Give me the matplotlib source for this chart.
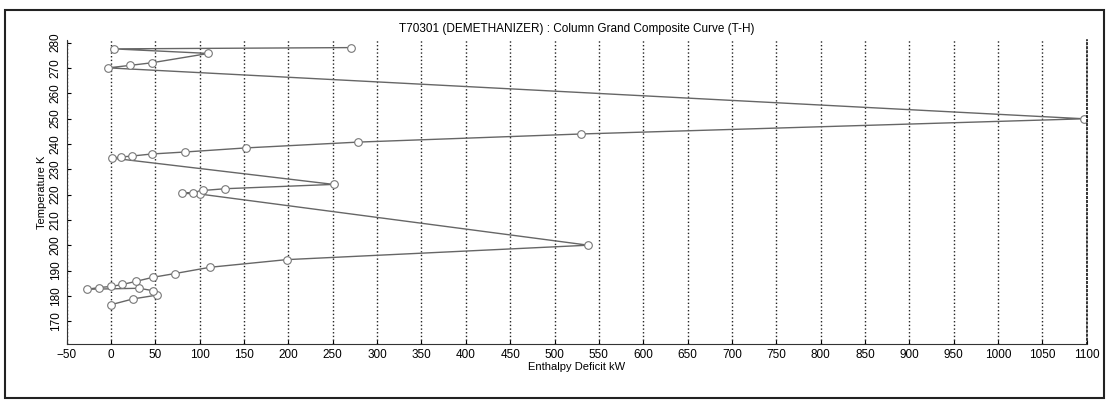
import numpy as np
import matplotlib.pyplot as plt
from matplotlib.patches import Rectangle

plt.rcParams['font.family'] = ['Liberation Sans', 'DejaVu Sans']

# Puntos de la curva (kW, K), desde el fondo de la columna hacia arriba
enthalpy = [0, 25, 52, 48, 32, -27, -13, 0, 13, 28, 47, 72, 112, 198, 538,
            100, 80, 92, 104, 129, 251,
            1, 11, 24, 46, 84, 152, 279, 530, 1097,
            -3, 22, 46, 110, 3, 271]
temperature = [176.5, 178.8, 180.3, 182.0, 183.0, 182.6, 183.3, 183.7, 184.5, 185.7, 187.3, 188.8, 191.3, 194.3, 200.0,
               220.2, 220.5, 220.8, 221.6, 222.3, 224.0,
               234.4, 234.8, 235.2, 236.0, 236.8, 238.4, 240.7, 243.9, 249.9,
               270.0, 271.0, 272.0, 275.7, 277.5, 278.0]

xticks = np.arange(-50, 1101, 50)
yticks = np.arange(170, 281, 10)

fig = plt.figure(figsize=(11.09, 4), dpi=100)
ax = fig.add_axes([0.060, 0.14, 0.920, 0.76])

ax.plot(enthalpy, temperature, '-', color='#666666', linewidth=1.0,
        marker='o', markersize=5.5, markerfacecolor='white', markeredgecolor='#777777',
        markeredgewidth=0.8)

ax.set_xlim(-50, 1100)
ax.set_ylim(161, 281)
ax.set_xticks(xticks)
ax.set_yticks(yticks)
ax.tick_params(axis='both', labelsize=8.5, length=3, width=0.8, direction='in')
plt.setp(ax.get_yticklabels(), rotation=90, va='center')

ax.xaxis.grid(True, linestyle=':', color='#222222', linewidth=1.0)
ax.spines['top'].set_visible(False)
ax.spines['right'].set_linestyle(':')
ax.spines['right'].set_linewidth(1.1)
ax.spines['left'].set_color('#333333')
ax.spines['bottom'].set_color('#333333')

ax.set_title('T70301 (DEMETHANIZER) : Column Grand Composite Curve (T-H)', fontsize=8.5, pad=6)
ax.set_xlabel('Enthalpy Deficit kW', fontsize=8, labelpad=1)
ax.set_ylabel('Temperature K', fontsize=8, labelpad=2)

# marco exterior
fig.patches.append(Rectangle((5 / 1109, 2 / 400), 1099 / 1109, 388 / 400,
                             transform=fig.transFigure, fill=False,
                             edgecolor='#222222', linewidth=1.5))

plt.savefig('out.png', dpi=100)
